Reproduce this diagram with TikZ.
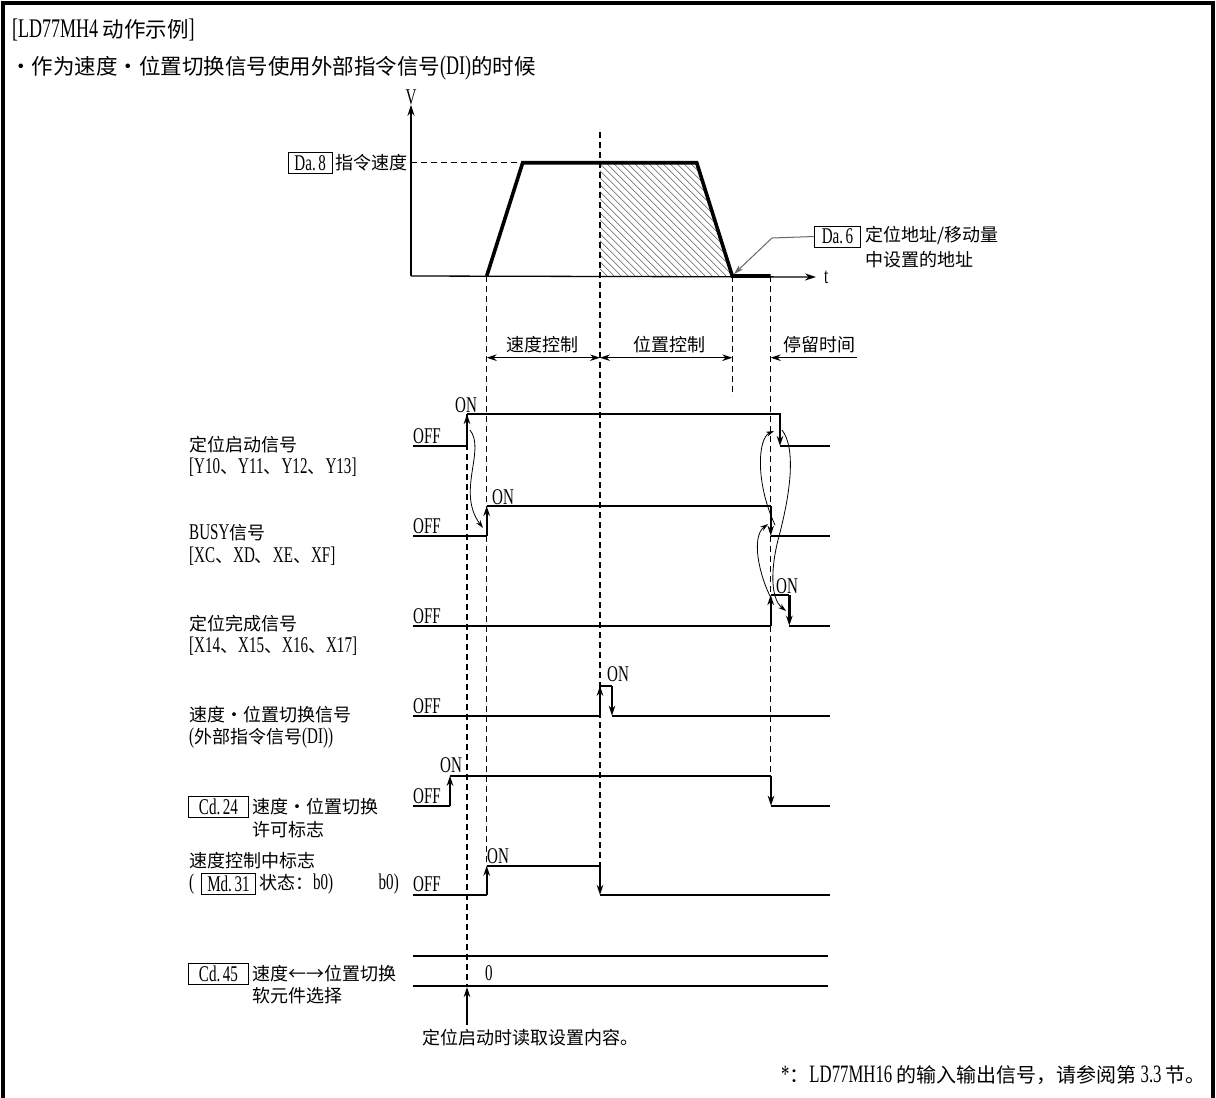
\documentclass[tikz,border=0pt]{standalone}
\usepackage{fontspec}
\setmainfont{Liberation Serif}[Scale=1.25,FakeStretch=0.67]
\newfontfamily\cjk{Noto Sans CJK SC}
\usetikzlibrary{arrows.meta}
\newcommand\C[1]{{\cjk #1}}
\newcommand\myfs{\fontsize{18}{22}\selectfont}
\newcommand\titlefs{\fontsize{21.5}{25}\selectfont}
\begin{document}
\begin{tikzpicture}[x=1pt,y=-1pt,
  every node/.style={inner sep=0pt,font=\myfs},
  frame/.style={line width=4pt},
  axisarr/.style={line width=1.3pt,-{Stealth[length=11pt,width=7pt]}},
  trap/.style={line width=3.6pt,line join=miter},
  dsh/.style={line width=1.1pt,dash pattern=on 6pt off 4pt},
  sig/.style={line width=2.4pt},
  sedge/.style={line width=2.4pt,-{Stealth[length=10pt,width=6.5pt]}},
  dimarr/.style={line width=1.2pt,{Stealth[length=10pt,width=6.5pt]}-{Stealth[length=10pt,width=6.5pt]}},
  onearr/.style={line width=1.2pt,-{Stealth[length=10pt,width=6.5pt]}},
  tarr/.style={line width=0.8pt,-{Stealth[length=8pt,width=5pt]}},
  leader/.style={line width=1pt,draw=black!60,-{Stealth[length=10pt,width=6pt]}},
  refbox/.style={draw,line width=0.9pt,inner xsep=3pt,inner ysep=0pt,minimum height=21pt},
  lab/.style={anchor=west},
  hatch/.style={line width=0.6pt,draw=black!65}
]
\useasboundingbox (0,0) rectangle (1216,1098);
% frame
\draw[frame] (3,1098) -- (3,3) -- (1213,3) -- (1213,1098);
% titles
\node[lab,font=\titlefs] (title) at (12,30) {[LD77MH4 \C{动作示例}]};
\node[lab,font=\titlefs] (sub) at (10,68) {\C{・作为速度・位置切换信号使用外部指令信号}(DI)\C{的时候}};

% ---------- velocity graph ----------
\coordinate (O) at (411,276);
\node (V) at (411,97) {V};
\node[lab] (t) at (824,277) {t};
\draw[axisarr] (O) -- (V.south);
\draw[axisarr] (O) -- ([xshift=-8pt]t.west);
% hatch
\begin{scope}
  \clip (600,162.7) -- (696.7,162.7) -- (732.3,276) -- (600,276) -- cycle;
  \foreach \x in {480,487,...,740} \draw[hatch] (\x,162.7) -- (\x+113.3,276);
\end{scope}
\draw[dsh] (O |- 0,162.7) -- (522.7,162.7);
\draw[trap] (486.7,276) -- (522.7,162.7) -- (696.7,162.7) -- (732.3,276) -- (770.7,276);
\node[anchor=east] (cmdv) at (408,163) {\C{指令速度}};
\node[refbox,anchor=east,minimum width=44pt] (da8) at ([xshift=-3pt]cmdv.west) {Da.\kern2.5pt8};
% Da.6
\node[refbox,anchor=west,minimum width=46pt] (da6) at (814,236.5) {Da.\kern2.5pt6};
\node[lab] (da6a) at (865,235) {\C{定位地址/移动量}};
\node[lab] (da6b) at (865,260) {\C{中设置的地址}};
\coordinate (da6k) at (772,238);
\coordinate (da6tip) at (734,274);
\draw[leader] (da6.west) -- (da6k) -- (da6tip);

% ---------- dashed time markers ----------
\draw[dsh] (467,414) -- (467,985);
\draw[dsh] (486.7,276) -- (486.7,866);
\draw[dsh] (600,132) -- (600,866);
\draw[dsh] (732.3,276) -- (732.3,396);
\draw[dsh] (770.7,276) -- (770.7,776);

% ---------- phase arrows ----------
\node (lsc) at (542.5,345) {\C{速度控制}};
\node (lpc) at (669,345) {\C{位置控制}};
\node (ldw) at (819,345) {\C{停留时间}};
\coordinate (p1) at (486.7,357.7);
\coordinate (p2) at (600,357.7);
\coordinate (p3) at (732.3,357.7);
\coordinate (p4) at (770.7,357.7);
\coordinate (p5) at (857,357.7);
\draw[dimarr] (p1) -- (p2);
\draw[dimarr] (p2) -- (p3);
\draw[onearr] (p5) -- (p4);

% ---------- left labels ----------
\node[lab] (l1a) at (189,445) {\C{定位启动信号}};
\node[lab] (l1b) at (189,467) {[Y10\C{、}Y11\C{、}Y12\C{、}Y13]};
\node[lab] (l2a) at (189,533) {BUSY\C{信号}};
\node[lab] (l2b) at (189,556) {[XC\C{、}XD\C{、}XE\C{、}XF]};
\node[lab] (l3a) at (189,624) {\C{定位完成信号}};
\node[lab] (l3b) at (189,646) {[X14\C{、}X15\C{、}X16\C{、}X17]};
\node[lab] (l4a) at (189,715) {\C{速度・位置切换信号}};
\node[lab] (l4b) at (189,738) {(\C{外部指令信号}(DI))};
\node[refbox,anchor=west,minimum width=60pt] (cd24) at (188,806.7) {Cd.\kern2.5pt24};
\node[lab] (l5a) at (252,806.7) {\C{速度・位置切换}};
\node[lab] (l5b) at (252,830) {\C{许可标志}};
\node[lab] (l6a) at (189,861) {\C{速度控制中标志}};
\node[lab] (l6p) at (189,884) {(};
\node[refbox,anchor=west,minimum width=54pt] (md31) at (201,884) {Md.\kern2.5pt31};
\node[lab] (l6b) at ([xshift=3pt]md31.east) {\C{状态：}b0)};
\node[anchor=east] (l6c) at (399,884) {b0)};
\node[refbox,anchor=west,minimum width=60pt] (cd45) at (188,973.5) {Cd.\kern2.5pt45};
\node[lab] (l7a) at (252,973.5) {\C{速度←→位置切换}};
\node[lab] (l7b) at (252,996) {\C{软元件选择}};

% ---------- signal 1: positioning start ----------
\draw[sig] (413,446) -- (467,446);
\draw[sedge] (467,446) -- (467,414);
\draw[sig] (467,414) -- (780,414) -- (780,420);
\draw[sedge] (780,414) -- (780,446);
\draw[sig] (780,446) -- (830,446);
\node[lab] (off1) at (413,436) {OFF};
\node (on1) at (466,405) {ON};
% ---------- signal 2: BUSY ----------
\draw[sig] (413,535.7) -- (486.7,535.7);
\draw[sedge] (486.7,535.7) -- (486.7,506);
\draw[sig] (486.7,506) -- (770.7,506);
\draw[sedge] (770.7,506) -- (770.7,535.7);
\draw[sig] (770.7,535.7) -- (830,535.7);
\node[lab] (off2) at (413,526) {OFF};
\node (on2) at (503,497) {ON};
% ---------- signal 3: positioning complete ----------
\draw[sig] (413,625.7) -- (770.7,625.7);
\draw[sedge] (770.7,625.7) -- (770.7,595);
\draw[sig] (770.7,595) -- (789.3,595);
\draw[sedge] (789.3,595) -- (789.3,625.7);
\draw[sig] (789.3,625.7) -- (830,625.7);
\node[lab] (off3) at (413,616) {OFF};
\node (on3) at (787,586) {ON};
% ---------- signal 4: DI ----------
\draw[sig] (413,715.7) -- (600,715.7);
\draw[sedge] (600,715.7) -- (600,685.7);
\draw[sig] (600,685.7) -- (612,685.7);
\draw[sedge] (612,685.7) -- (612,715.7);
\draw[sig] (612,715.7) -- (830,715.7);
\node[lab] (off4) at (413,706) {OFF};
\node (on4) at (618,674) {ON};
% ---------- signal 5: Cd.24 ----------
\draw[sig] (413,805.7) -- (450,805.7);
\draw[sedge] (450,805.7) -- (450,775.7);
\draw[sig] (450,775.7) -- (771,775.7);
\draw[sedge] (771,775.7) -- (771,805.7);
\draw[sig] (771,805.7) -- (830,805.7);
\node[lab] (off5) at (413,796) {OFF};
\node (on5) at (451,765) {ON};
% ---------- signal 6: speed control flag ----------
\draw[sig] (413,895) -- (486.7,895);
\draw[sedge] (486.7,895) -- (486.7,865.7);
\draw[sig] (486.7,865.7) -- (600,865.7);
\draw[sedge] (600,865.7) -- (600,895);
\draw[sig] (600,895) -- (830,895);
\node[lab] (off6) at (413,884) {OFF};
\node (on6) at (498,856) {ON};
% ---------- Cd.45 ----------
\draw[sig] (413,955.7) -- (828,955.7);
\draw[sig] (413,985.7) -- (828,985.7);
\node (zero) at (489,973) {0};
\node[lab] (readnote) at (422,1038) {\C{定位启动时读取设置内容。}};
\coordinate (rd) at (467,1025);
\coordinate (rdtip) at (467,987);
\draw[sedge,line width=1.6pt] (rd) -- (rdtip);

% ---------- causality curves ----------
\draw[tarr] (470,430) .. controls (486,450) and (456,492) .. (483,528);
\draw[tarr] (775,525) .. controls (755,482) and (758,438) .. (774,431);
\draw[tarr] (782,430) .. controls (796,448) and (791,492) .. (778,540) .. controls (771,568) and (770,598) .. (786,611);
\draw[tarr] (771,598) .. controls (759,575) and (751,537) .. (768,524);

% ---------- note ----------
\node[anchor=east,font=\fontsize{20}{24}\selectfont] (note) at (1206,1075) {*\C{：}LD77MH16 \C{的输入输出信号，请参阅第} 3.3 \C{节。}};
\end{tikzpicture}
\end{document}
